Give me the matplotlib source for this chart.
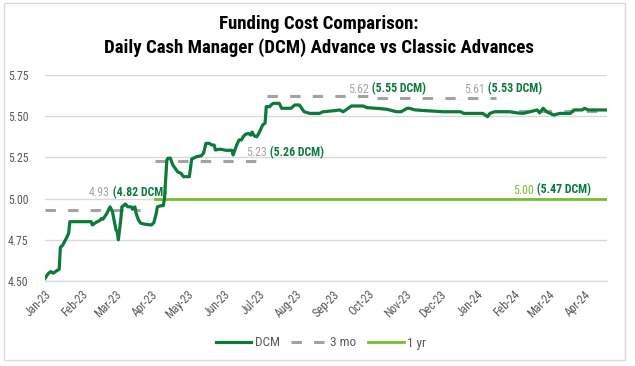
import matplotlib
matplotlib.use("Agg")
import matplotlib.pyplot as plt
import matplotlib.dates as mdates
from matplotlib import font_manager
from matplotlib.patches import Rectangle
import datetime as dt

# ---------------- data ----------------
dcm_dates = ["2023-01-01","2023-01-04","2023-01-06","2023-01-08","2023-01-11","2023-01-13",
             "2023-01-14","2023-01-16","2023-01-19","2023-01-21","2023-01-22","2023-02-09",
             "2023-02-10","2023-02-13","2023-02-16","2023-02-18","2023-02-19","2023-02-22",
             "2023-02-25","2023-02-27","2023-03-02","2023-03-03","2023-03-04","2023-03-06",
             "2023-03-07","2023-03-10","2023-03-12","2023-03-15","2023-03-16","2023-03-18",
             "2023-03-19","2023-03-21","2023-03-23","2023-03-27","2023-04-01","2023-04-03",
             "2023-04-05","2023-04-06","2023-04-09","2023-04-11","2023-04-12","2023-04-14",
             "2023-04-15","2023-04-17","2023-04-19","2023-04-21","2023-04-23","2023-04-26",
             "2023-04-28","2023-05-03","2023-05-05","2023-05-09","2023-05-13","2023-05-15",
             "2023-05-17","2023-05-20","2023-05-22","2023-05-24","2023-05-25","2023-05-29",
             "2023-06-03","2023-06-08","2023-06-09","2023-06-12","2023-06-14","2023-06-16",
             "2023-06-18","2023-06-20","2023-06-22","2023-06-24","2023-06-25","2023-06-27",
             "2023-06-29","2023-07-01","2023-07-04","2023-07-06","2023-07-07","2023-07-10",
             "2023-07-11","2023-07-13","2023-07-18","2023-07-20","2023-07-28","2023-07-31",
             "2023-08-04","2023-08-08","2023-08-13","2023-08-21","2023-08-24","2023-09-03",
             "2023-09-07","2023-09-10","2023-09-13","2023-09-17","2023-09-27","2023-09-30",
             "2023-10-08","2023-10-17","2023-10-25","2023-10-29","2023-11-03","2023-11-05",
             "2023-11-10","2023-11-18","2023-12-04","2023-12-18","2023-12-21","2024-01-06",
             "2024-01-10","2024-01-12","2024-01-16","2024-01-29","2024-02-04","2024-02-09",
             "2024-02-15","2024-02-21","2024-02-23","2024-02-26","2024-02-29","2024-03-06",
             "2024-03-11","2024-03-20","2024-03-23","2024-03-30","2024-04-01","2024-04-04",
             "2024-04-20"]
dcm_values = [4.516,4.547,4.557,4.547,4.563,4.571,
              4.704,4.718,4.759,4.789,4.860,4.860,
              4.840,4.855,4.866,4.880,4.875,4.907,
              4.950,4.920,4.810,4.800,4.750,4.870,
              4.950,4.967,4.950,4.950,4.935,4.950,
              4.910,4.870,4.850,4.844,4.840,4.854,
              4.910,4.950,4.957,4.957,5.003,5.234,
              5.245,5.245,5.204,5.184,5.163,5.153,
              5.133,5.133,5.240,5.254,5.260,5.275,
              5.335,5.335,5.325,5.325,5.295,5.300,
              5.293,5.293,5.265,5.325,5.356,5.356,
              5.380,5.392,5.395,5.385,5.404,5.380,
              5.375,5.400,5.447,5.458,5.558,5.558,
              5.568,5.578,5.578,5.548,5.548,5.568,
              5.568,5.527,5.517,5.517,5.527,5.534,
              5.538,5.527,5.542,5.562,5.562,5.552,
              5.548,5.542,5.527,5.527,5.548,5.548,
              5.538,5.534,5.527,5.527,5.517,5.517,
              5.497,5.517,5.527,5.527,5.520,5.517,
              5.527,5.538,5.520,5.548,5.527,5.507,
              5.517,5.517,5.538,5.538,5.548,5.538,
              5.538]

# 3-month classic advance rate segments (start, end, rate)
mo3_starts = ["2023-01-01", "2023-04-04", "2023-07-08", "2023-10-09", "2024-01-17"]
mo3_ends   = ["2023-03-22", "2023-07-08", "2023-10-09", "2024-01-17", "2024-04-20"]
mo3_rates  = [4.93, 5.23, 5.62, 5.61, 5.53]

# 1-year classic advance rate
yr1_start = "2023-04-04"
yr1_end = "2024-04-20"
yr1_rate = 5.00

# annotations
ann_dates = ["2023-02-07", "2023-06-20", "2023-09-14", "2023-12-21", "2024-02-01"]
ann_y = [5.034, 5.277, 5.665, 5.665, 5.052]
ann_classic = ["4.93", "5.23", "5.62", "5.61", "5.00"]
ann_dcm = ["(4.82 DCM)", "(5.26 DCM)", "(5.55 DCM)", "(5.53 DCM)", "(5.47 DCM)"]
ann_kind = ["3mo", "3mo", "3mo", "3mo", "1yr"]

title = "Funding Cost Comparison:\nDaily Cash Manager (DCM) Advance vs Classic Advances"
yticks = [4.50, 4.75, 5.00, 5.25, 5.50, 5.75]

# ---------------- style ----------------
DCM_C = "#0B7A3A"
YR_C = "#78BE2A"
MO_C = "#A3A3A3"
TXT_C = "#595959"
GRID_C = "#D9D9D9"

names = {f.name for f in font_manager.fontManager.ttflist}
FAM = [f for f in ["Arial Narrow", "Liberation Sans Narrow", "Roboto Condensed",
                   "Archivo Narrow", "PT Sans Narrow", "Liberation Sans"] if f in names][:1]
plt.rcParams["font.family"] = FAM + ["DejaVu Sans"]

def d(s):
    return dt.datetime.strptime(s, "%Y-%m-%d")

fig = plt.figure(figsize=(6.35, 3.66), dpi=100)
fig.patch.set_facecolor("white")
fig.add_artist(Rectangle((4/635, 1-360/366), 621/635, 357/366, transform=fig.transFigure,
                         fill=False, edgecolor=GRID_C, linewidth=1.0))

ax = fig.add_axes([45/635, 1-281/366, 562/635, 206/366])

x_dcm = [d(s) for s in dcm_dates]
ax.plot(x_dcm, dcm_values, color=DCM_C, lw=2.3, zorder=4, label="DCM",
        solid_joinstyle="round")

for i, (s, e, r) in enumerate(zip(mo3_starts, mo3_ends, mo3_rates)):
    ax.plot([d(s), d(e)], [r, r], color=MO_C, lw=2.2, dashes=(3.4, 4.0), zorder=3,
            label="3 mo" if i == 0 else None, dash_capstyle="butt")

ax.plot([d(yr1_start), d(yr1_end)], [yr1_rate, yr1_rate], color=YR_C, lw=2.0, zorder=3,
        label="1 yr")

for ad, ay, c, dd, k in zip(ann_dates, ann_y, ann_classic, ann_dcm, ann_kind):
    col = MO_C if k == "3mo" else YR_C
    t = ax.annotate(c, xy=(d(ad), ay), xycoords="data", color=col, fontsize=8.6,
                    ha="left", va="center", zorder=5)
    ax.annotate(" " + dd, xy=(1, 0.5), xycoords=t, color=DCM_C, fontsize=8.6,
                fontweight="bold", ha="left", va="center", zorder=5)

ax.set_xlim(d("2023-01-01"), d("2024-04-20"))
ax.set_ylim(4.5, 5.75)
ax.set_yticks(yticks)
ax.yaxis.set_major_formatter(matplotlib.ticker.FormatStrFormatter("%.2f"))
ax.xaxis.set_major_locator(mdates.MonthLocator())
ax.xaxis.set_major_formatter(mdates.DateFormatter("%b-%y"))
for lab in ax.get_xticklabels():
    lab.set_rotation(45)
    lab.set_ha("right")
    lab.set_rotation_mode("anchor")
ax.tick_params(axis="both", length=0, colors=TXT_C, labelsize=8.5)
ax.tick_params(axis="y", pad=12)
ax.tick_params(axis="x", pad=5)
ax.grid(axis="y", color=GRID_C, lw=1.0)
ax.set_axisbelow(True)
for sp in ax.spines.values():
    sp.set_visible(False)
ax.spines["bottom"].set_visible(True)
ax.spines["bottom"].set_color(GRID_C)

fig.text(319/635, 1-36/366, title, ha="center", va="center", fontsize=13.6, fontweight="bold",
         color="black", linespacing=1.4)

leg = fig.legend(loc="center", bbox_to_anchor=(321/635, 1-343/366), ncol=3, frameon=False,
                 fontsize=9.5, handlelength=2.7, columnspacing=0.9, handletextpad=0.25)
for t in leg.get_texts():
    t.set_color(TXT_C)

fig.savefig("out.png", dpi=100, facecolor="white")
